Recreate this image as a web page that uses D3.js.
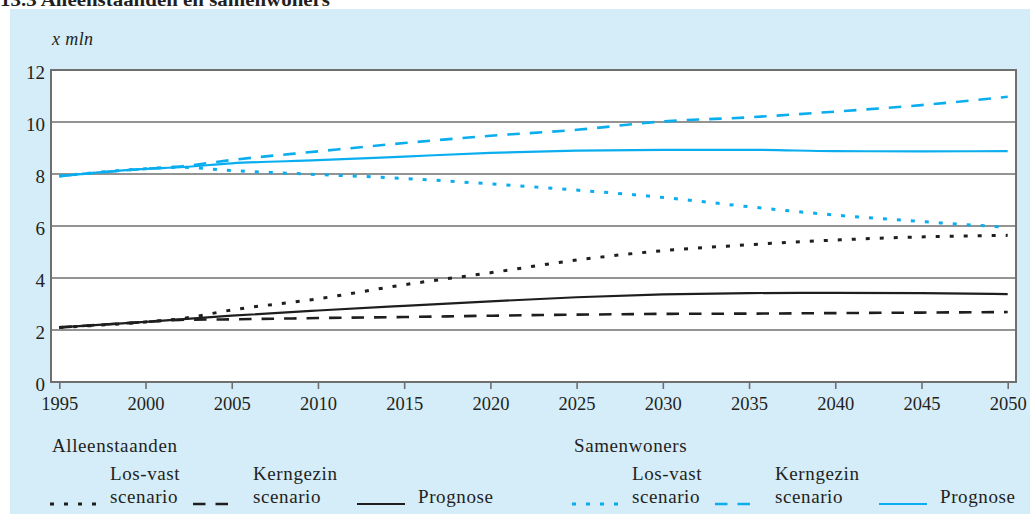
<!DOCTYPE html>
<html><head><meta charset="utf-8">
<script src="https://cdn.jsdelivr.net/npm/d3@7"></script>
<style>
body{margin:0;background:#fff;}
svg{display:block;}
svg text{font-family:"Liberation Serif","DejaVu Serif",serif !important;fill:#231f20;}
</style>
</head><body><svg id="c" width="1030" height="514"></svg>
<script>
const years = [1995, 2000, 2002, 2005, 2010, 2015, 2020, 2025, 2030, 2035, 2040, 2045, 2050];
const alleenLosVast   = [2.10, 2.31, 2.43, 2.77, 3.20, 3.74, 4.20, 4.69, 5.05, 5.28, 5.46, 5.58, 5.64];
const alleenKerngezin = [2.10, 2.31, 2.39, 2.41, 2.46, 2.50, 2.55, 2.59, 2.62, 2.63, 2.65, 2.67, 2.69];
const alleenPrognose  = [2.10, 2.31, 2.41, 2.55, 2.75, 2.93, 3.10, 3.26, 3.37, 3.42, 3.43, 3.42, 3.38];
const samenLosVast    = [7.92, 8.20, 8.26, 8.13, 7.98, 7.83, 7.62, 7.38, 7.10, 6.74, 6.42, 6.17, 5.95];
const samenKerngezin  = [7.92, 8.20, 8.29, 8.54, 8.87, 9.19, 9.47, 9.70, 10.02, 10.18, 10.40, 10.65, 10.97];
const samenPrognose   = [7.92, 8.20, 8.26, 8.41, 8.53, 8.67, 8.81, 8.90, 8.93, 8.93, 8.88, 8.87, 8.88];
const yTicks = [0, 2, 4, 6, 8, 10, 12];
const xTicks = [1995, 2000, 2005, 2010, 2015, 2020, 2025, 2030, 2035, 2040, 2045, 2050];
const title = "13.3  Alleenstaanden en samenwoners";
const unitLabel = "x mln";
const groupNames = ["Alleenstaanden", "Samenwoners"];

const BLACK = "#1f1d1e", BLUE = "#0aaeef", GRID = "#6f6f6f";
const styles = {
  losvast: {dash: "4,10", width: 3},
  kerngezin: {dash: "12.5,10", width: 2.6},
  prognose: {dash: null, width: 2.2}
};
const LEG_FS = 19, LEG_LS = 0.6;

const svg = d3.select("#c");
svg.append("rect").attr("x", 10).attr("y", 9).attr("width", 1020).attr("height", 505).attr("fill", "#d5ecf9");
svg.append("text").attr("x", 0).attr("y", 5.5).attr("font-weight", "bold").attr("font-size", 18)
  .attr("textLength", 330).attr("lengthAdjust", "spacingAndGlyphs").text(title);

const frame = {left: 51, right: 1016, top: 70, bottom: 382};
const x = d3.scaleLinear().domain([1995, 2050]).range([59.3, 1007.7]);
const y = d3.scaleLinear().domain([0, 12]).range([frame.bottom, frame.top]);

svg.append("rect").attr("x", frame.left).attr("y", frame.top)
  .attr("width", frame.right - frame.left).attr("height", frame.bottom - frame.top).attr("fill", "#fff");

svg.append("g").selectAll("line").data(yTicks.filter(d => d > 0 && d < 12)).join("line")
  .attr("x1", frame.left).attr("x2", frame.right).attr("y1", d => y(d)).attr("y2", d => y(d))
  .attr("stroke", GRID).attr("stroke-width", 1.6);

svg.append("g").selectAll("text").data(yTicks).join("text")
  .attr("x", 45).attr("y", d => y(d) + 9).attr("text-anchor", "end").attr("font-size", 19).text(d => d);

svg.append("text").attr("x", 52).attr("y", 45).attr("font-style", "italic").attr("font-size", 18)
  .attr("letter-spacing", 0.4).text(unitLabel);

const xAxis = d3.axisBottom(x).tickValues(xTicks).tickFormat(d3.format("d")).tickSize(7).tickPadding(4);
const gx = svg.append("g").attr("transform", `translate(0,${frame.bottom})`).call(xAxis);
gx.select(".domain").remove();
gx.selectAll("line").attr("stroke", GRID).attr("stroke-width", 1.6);
gx.selectAll("text").attr("font-size", 18.5).attr("fill", "#231f20").attr("dy", "0.92em");

const line = d3.line().x((d, i) => x(years[i])).y(d => y(d)).curve(d3.curveMonotoneX);
const series = [
  {vals: alleenKerngezin, color: BLACK, st: styles.kerngezin},
  {vals: alleenLosVast, color: BLACK, st: styles.losvast},
  {vals: alleenPrognose, color: BLACK, st: styles.prognose},
  {vals: samenLosVast, color: BLUE, st: styles.losvast},
  {vals: samenKerngezin, color: BLUE, st: styles.kerngezin},
  {vals: samenPrognose, color: BLUE, st: styles.prognose}
];
svg.append("g").selectAll("path").data(series).join("path")
  .attr("d", d => line(d.vals)).attr("fill", "none").attr("stroke", d => d.color)
  .attr("stroke-width", d => d.st.width).attr("stroke-dasharray", d => d.st.dash);

svg.append("rect").attr("x", frame.left).attr("y", frame.top)
  .attr("width", frame.right - frame.left).attr("height", frame.bottom - frame.top)
  .attr("fill", "none").attr("stroke", GRID).attr("stroke-width", 2);

const legends = [
  {name: groupNames[0], color: BLACK, x0: 0},
  {name: groupNames[1], color: BLUE, x0: 522}
];
legends.forEach(g => {
  const lg = svg.append("g").attr("transform", `translate(${g.x0},0)`);
  lg.append("text").attr("x", 52).attr("y", 452).attr("font-size", LEG_FS).attr("letter-spacing", LEG_LS).text(g.name);
  const items = [
    {st: styles.losvast, x1: 50, x2: 97, lab: ["Los-vast", "scenario"], tx: 110},
    {st: styles.kerngezin, x1: 193, x2: 230, lab: ["Kerngezin", "scenario"], tx: 253},
    {st: styles.prognose, x1: 357, x2: 405, lab: ["", "Prognose"], tx: 418}
  ];
  items.forEach(it => {
    lg.append("line").attr("x1", it.x1).attr("x2", it.x2).attr("y1", 504).attr("y2", 504)
      .attr("stroke", g.color).attr("stroke-width", it.st.width).attr("stroke-dasharray", it.st.dash);
    if (it.lab[0]) lg.append("text").attr("x", it.tx).attr("y", 480).attr("font-size", LEG_FS)
      .attr("letter-spacing", LEG_LS).text(it.lab[0]);
    lg.append("text").attr("x", it.tx).attr("y", 503).attr("font-size", LEG_FS)
      .attr("letter-spacing", LEG_LS).text(it.lab[1]);
  });
});
</script>
</body></html>
